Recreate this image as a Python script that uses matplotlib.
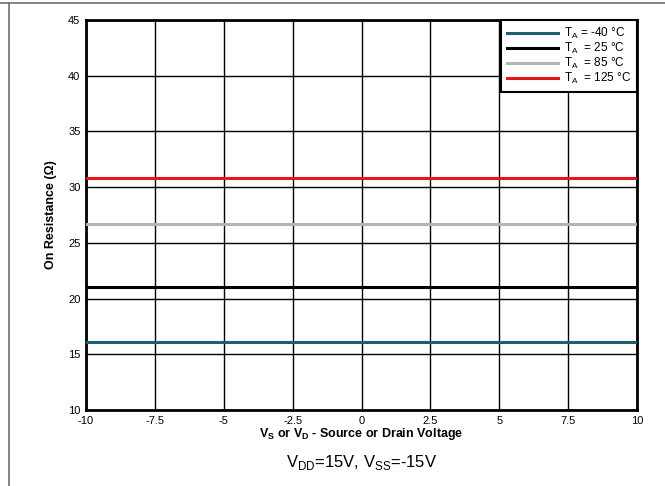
import numpy as np
import matplotlib.pyplot as plt
from matplotlib.lines import Line2D

plt.rcParams['font.family'] = ['Liberation Sans', 'DejaVu Sans']

# source / drain voltage (V)
vs = [-10, -7.5, -5, -2.5, 0, 2.5, 5, 7.5, 10]
# on resistance (ohm) per temperature
r_m40 = [16.1, 16.1, 16.1, 16.1, 16.1, 16.1, 16.1, 16.1, 16.1]
r_25 = [21.05, 21.05, 21.05, 21.05, 21.05, 21.05, 21.05, 21.05, 21.05]
r_85 = [26.65, 26.65, 26.65, 26.65, 26.65, 26.65, 26.65, 26.65, 26.65]
r_125 = [30.8, 30.8, 30.8, 30.8, 30.8, 30.8, 30.8, 30.8, 30.8]

labels = [r'T$_\mathregular{A}$ = -40 °C', r'T$_\mathregular{A}$  = 25 °C',
          r'T$_\mathregular{A}$  = 85 °C', r'T$_\mathregular{A}$  = 125 °C']
colors = ['#1f5f73', '#000000', '#b4b4b4', '#e8141b']

xticks = [-10, -7.5, -5, -2.5, 0, 2.5, 5, 7.5, 10]
xticklabels = ['-10', '-7.5', '-5', '-2.5', '0', '2.5', '5', '7.5', '10']
yticks = [10, 15, 20, 25, 30, 35, 40, 45]

fig = plt.figure(figsize=(6.65, 4.86), dpi=100)
ax = fig.add_axes([86/665, 1-410/486, (637-86)/665, (410-20)/486])

for y, c, lab in zip([r_m40, r_25, r_85, r_125], colors, labels):
    ax.plot(vs, y, color=c, lw=2.2, label=lab, zorder=3)

ax.set_xlim(-10, 10)
ax.set_ylim(10, 45)
ax.set_xticks(xticks)
ax.set_xticklabels(xticklabels)
ax.set_yticks(yticks)
ax.grid(True, color='black', lw=1.0, zorder=1)
ax.tick_params(length=0, labelsize=8, pad=4)
for s in ax.spines.values():
    s.set_linewidth(2)

ax.set_xlabel(r'V$_\mathregular{S}$ or V$_\mathregular{D}$ - Source or Drain Voltage',
              fontsize=9, fontweight='bold', labelpad=0)
ax.set_ylabel('On Resistance (Ω)', fontsize=9, fontweight='bold', labelpad=8)

leg = ax.legend(loc='upper right', bbox_to_anchor=(1.0, 1.0), fontsize=8.5,
                frameon=True, fancybox=False, edgecolor='black', framealpha=1,
                borderaxespad=0, handlelength=4.3, handletextpad=0.5,
                labelspacing=0.0, borderpad=0.5)
leg.get_frame().set_linewidth(1.5)

fig.text((86+637)/2/665, 1-462/486,
         r'V$_\mathregular{DD}$=15V, V$_\mathregular{SS}$=-15V',
         ha='center', va='center', fontsize=12)

# outer frame lines
fig.add_artist(Line2D([0, 1], [1-3/486, 1-3/486], color='#707070', lw=1.2,
                      transform=fig.transFigure))
fig.add_artist(Line2D([8.5/665, 8.5/665], [0, 1-3/486], color='#707070', lw=1.2,
                      transform=fig.transFigure))

fig.savefig('out.png', dpi=100)
